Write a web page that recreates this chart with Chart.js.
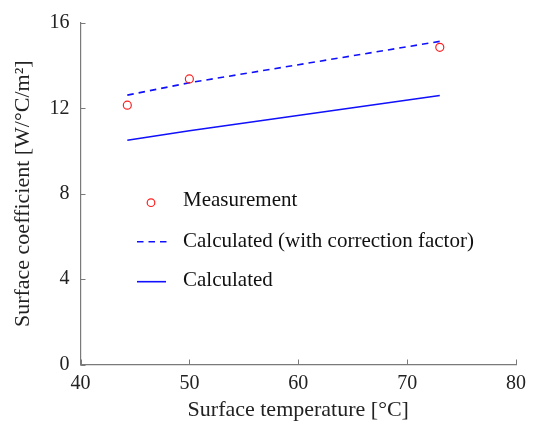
<!DOCTYPE html>
<html>
<head>
<meta charset="utf-8">
<script src="https://cdn.jsdelivr.net/npm/chart.js@4/dist/chart.umd.min.js"></script>
<style>
html,body{margin:0;padding:0;background:#fff;}
canvas{display:block;}
</style>
</head>
<body>
<canvas id="c" width="533" height="423"></canvas>
<script>
// ---- data ----
const temperatures = [44.3, 50, 73];
const measurement = [12.15, 13.38, 14.86];
const calcCorrected = [12.62, 13.2, 15.14];
const calculated = [10.51, 10.95, 12.6];
const xTicks = [40, 50, 60, 70, 80];
const yTicks = [0, 4, 8, 12, 16];
const seriesNames = ['Measurement', 'Calculated (with correction factor)', 'Calculated'];
const xTitle = 'Surface temperature [°C]';
const yTitle = 'Surface coefficient [W/°C/m²]';

const FONT = '"Liberation Serif", "Times New Roman", serif';
const FS = 20;
const FS_TITLE = 22;
const FS_LEGEND = 21;
const BLUE = '#1010ff';
const RED = '#ff2020';
const AXIS = '#7a7a7a';

const pts = (ys) => temperatures.map((x, i) => ({x, y: ys[i]}));

const innerTicks = {
  id: 'innerTicks',
  afterDraw(chart) {
    const ctx = chart.ctx, xs = chart.scales.x, ys = chart.scales.y;
    const a = chart.chartArea;
    ctx.save();
    ctx.strokeStyle = AXIS;
    ctx.lineWidth = 1;
    ctx.beginPath();
    xTicks.forEach(v => {
      const px = Math.round(xs.getPixelForValue(v)) + 0.5;
      ctx.moveTo(px, a.bottom);
      ctx.lineTo(px, a.bottom - 5);
    });
    yTicks.forEach(v => {
      const py = Math.round(ys.getPixelForValue(v)) + 0.5;
      ctx.moveTo(a.left, py);
      ctx.lineTo(a.left + 5, py);
    });
    ctx.stroke();
    ctx.restore();
  }
};

const customLegend = {
  id: 'customLegend',
  afterDraw(chart) {
    const ctx = chart.ctx;
    const ds = chart.data.datasets;
    ctx.save();
    ctx.font = FS_LEGEND + 'px ' + FONT;
    ctx.fillStyle = '#111';
    ctx.textBaseline = 'alphabetic';
    ctx.textAlign = 'left';
    const rows = [206, 246.5, 286];
    const lineY = [202.7, 241.7, 281.7];
    // row 1: marker
    ctx.strokeStyle = ds[0].borderColor;
    ctx.lineWidth = 1.2;
    ctx.beginPath();
    ctx.arc(151, lineY[0], 3.8, 0, Math.PI * 2);
    ctx.stroke();
    // row 2: dashed
    ctx.strokeStyle = ds[1].borderColor;
    ctx.lineWidth = ds[1].borderWidth;
    ctx.setLineDash(ds[1].borderDash);
    ctx.beginPath();
    ctx.moveTo(137, lineY[1]);
    ctx.lineTo(167, lineY[1]);
    ctx.stroke();
    ctx.setLineDash([]);
    // row 3: solid
    ctx.strokeStyle = ds[2].borderColor;
    ctx.lineWidth = ds[2].borderWidth;
    ctx.beginPath();
    ctx.moveTo(137, lineY[2]);
    ctx.lineTo(166, lineY[2]);
    ctx.stroke();
    ds.forEach((d, i) => ctx.fillText(d.label, 183, rows[i]));
    ctx.restore();
  }
};

new Chart(document.getElementById('c'), {
  type: 'scatter',
  data: {
    datasets: [
      {
        label: seriesNames[0],
        data: pts(measurement),
        showLine: false,
        pointStyle: 'circle',
        pointRadius: 4,
        pointBorderWidth: 1.2,
        borderColor: RED,
        backgroundColor: 'rgba(0,0,0,0)',
        pointBackgroundColor: 'rgba(0,0,0,0)',
        order: 0
      },
      {
        label: seriesNames[1],
        data: pts(calcCorrected),
        showLine: true,
        borderColor: BLUE,
        borderWidth: 1.6,
        borderDash: [6.5, 5],
        pointRadius: 0,
        fill: false,
        tension: 0,
        order: 1
      },
      {
        label: seriesNames[2],
        data: pts(calculated),
        showLine: true,
        borderColor: BLUE,
        borderWidth: 1.6,
        pointRadius: 0,
        fill: false,
        tension: 0,
        order: 2
      }
    ]
  },
  options: {
    responsive: false,
    animation: false,
    events: [],
    layout: { padding: { left: 0, top: 21, right: 15.7, bottom: 0 } },
    plugins: { legend: { display: false }, tooltip: { enabled: false } },
    scales: {
      x: {
        type: 'linear',
        min: 40, max: 80,
        afterBuildTicks: (s) => { s.ticks = xTicks.map(v => ({value: v})); },
        afterFit: (s) => { s.height = 58.5; },
        grid: { display: true, drawOnChartArea: false, drawTicks: false },
        border: { display: true, color: AXIS, width: 1.2 },
        ticks: { color: '#222', padding: 7, font: { family: FONT, size: FS }, maxRotation: 0 },
        title: { display: true, text: xTitle, color: '#222', font: { family: FONT, size: FS_TITLE }, padding: { top: 0, bottom: 0 } }
      },
      y: {
        type: 'linear',
        min: 0, max: 16,
        afterBuildTicks: (s) => { s.ticks = yTicks.map(v => ({value: v})); },
        afterFit: (s) => { s.width = 80.5; },
        grid: { display: true, drawOnChartArea: false, drawTicks: false },
        border: { display: true, color: AXIS, width: 1.2 },
        ticks: { color: '#222', padding: 11, font: { family: FONT, size: FS } },
        title: { display: true, text: yTitle, color: '#222', font: { family: FONT, size: FS_TITLE }, padding: { top: 10, bottom: 0 } }
      }
    }
  },
  plugins: [innerTicks, customLegend]
});
</script>
</body>
</html>
